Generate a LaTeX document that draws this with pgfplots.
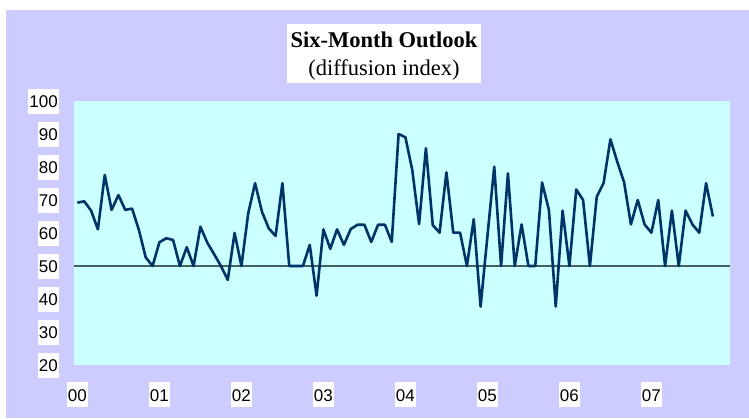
\documentclass[border=0pt]{standalone}
\usepackage{pgfplots}
\pgfplotsset{compat=1.18}
\usepackage{fontspec}
\setmainfont{Liberation Sans}
\newfontfamily\titlefont{Liberation Serif}
\definecolor{lav}{RGB}{204,204,255}
\definecolor{plotbg}{RGB}{204,255,255}
\definecolor{navy}{RGB}{0,51,102}
\definecolor{refline}{RGB}{70,95,95}
\begin{document}
\begin{tikzpicture}[x=1pt,y=1pt]
\useasboundingbox (0,0) rectangle (749,418);
\fill[white] (0,0) rectangle (749,418);
\fill[lav] (6,0) rectangle (749,408);
\begin{axis}[
  at={(74pt,53pt)}, anchor=south west,
  scale only axis, width=656pt, height=264pt,
  xmin=-0.5, xmax=95.5, ymin=20, ymax=100,
  axis background/.style={fill=plotbg},
  axis line style={draw=none},
  major tick style={draw=none},
  minor tick num=0,
  xtick={0,12,24,36,48,60,72,84},
  xticklabels={00,01,02,03,04,05,06,07},
  ytick={20,30,40,50,60,70,80,90,100},
  /pgf/number format/assume math mode=true,
  ticklabel style={font=\fontsize{17}{17}\selectfont, fill=white, inner xsep=1pt, inner ysep=6pt, text height=13pt, text depth=0pt},
  xticklabel shift=17pt,
  yticklabel shift=15pt,
  clip=false,
]
\addplot[refline, line width=1.2pt, no marks] coordinates {(-0.5,50) (95.5,50)};
\addplot[navy, line width=2.6pt, no marks, line join=round] table[x=m,y=v] {
m v
0 69.2
1 69.6
2 66.8
3 61.1
4 77.6
5 67.0
6 71.5
7 67.0
8 67.4
9 60.9
10 52.6
11 50
12 57.2
13 58.4
14 57.9
15 50
16 55.7
17 50
18 61.9
19 57.1
20 53.6
21 50
22 45.8
23 60.0
24 50
25 66
26 75.1
27 66.5
28 61.4
29 59.1
30 75.1
31 50
32 50
33 50
34 56.4
35 41.0
36 61.1
37 55.2
38 61.1
39 56.4
40 61.2
41 62.5
42 62.5
43 57.3
44 62.5
45 62.5
46 57.3
47 90
48 89
49 79.1
50 62.7
51 85.7
52 62.4
53 60.1
54 78.4
55 60.1
56 60.1
57 50
58 64.2
59 37.7
60 59
61 80.1
62 50
63 78.1
64 50
65 62.6
66 50
67 50
68 75.3
69 67
70 37.7
71 66.8
72 50
73 73.2
74 70
75 50
76 71
77 75.1
78 88.4
79 81.6
80 75.4
81 62.6
82 70
83 62.6
84 60.1
85 70
86 50
87 66.8
88 50
89 66.8
90 62.6
91 60.1
92 75.1
93 65
};
\end{axis}
\node[fill=white, minimum width=194pt, minimum height=59pt, inner sep=0pt] at (384,364.5) {};
\node[font=\titlefont\bfseries\fontsize{22.5}{22.5}\selectfont, inner sep=0pt] at (384,378) {Six-Month Outlook};
\node[font=\titlefont\fontsize{22.5}{22.5}\selectfont, inner sep=0pt] at (384,348) {(diffusion index)};
\end{tikzpicture}
\end{document}
